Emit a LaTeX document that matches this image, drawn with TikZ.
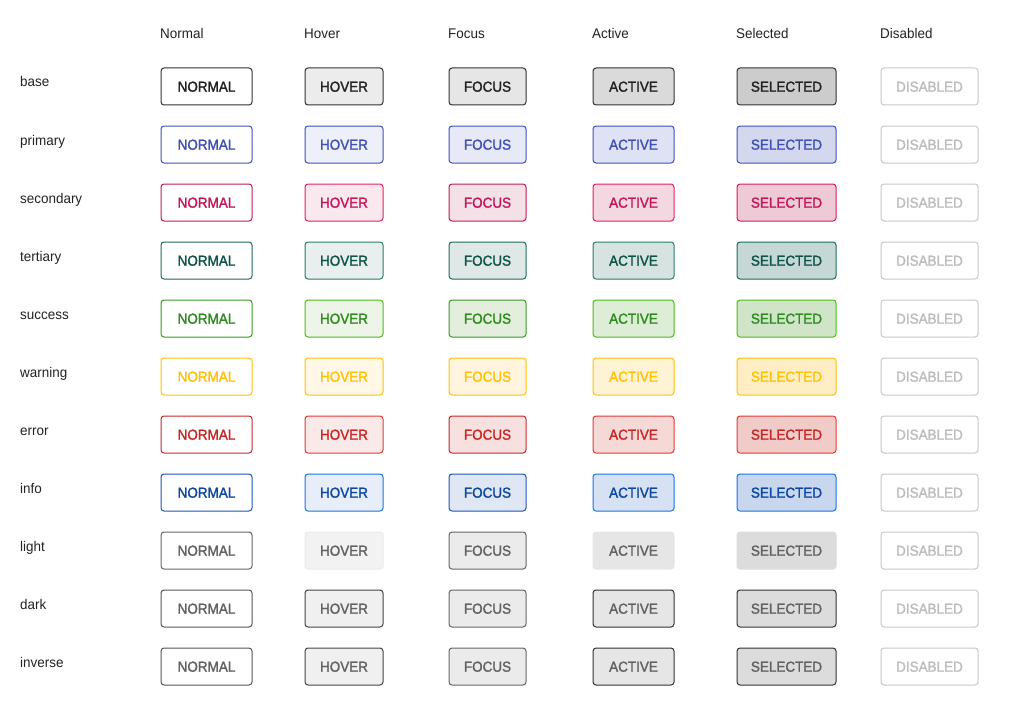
\documentclass[tikz,border=0pt]{standalone}
\usepackage{fontspec}
\setmainfont{Liberation Sans}
\newfontfamily\btnfont[FakeBold=1.6,FakeStretch=0.93]{Liberation Sans}
\newfontfamily\lblfont[FakeStretch=0.96]{Liberation Sans}
\usetikzlibrary{positioning}
% row colour definitions: text, borders and fills
\definecolor{lbl}{HTML}{222222}
\definecolor{dis}{HTML}{BDBDBD}
\definecolor{disb}{HTML}{C8C8C8}
% base
\definecolor{t1}{HTML}{212121}\definecolor{n1}{HTML}{333333}
\definecolor{bh1}{HTML}{333333}\definecolor{fh1}{HTML}{ECECEC}
\definecolor{bf1}{HTML}{333333}\definecolor{ff1}{HTML}{E6E6E6}
\definecolor{ba1}{HTML}{333333}\definecolor{fa1}{HTML}{DADADA}
\definecolor{bs1}{HTML}{333333}\definecolor{fs1}{HTML}{CCCCCC}
% primary
\definecolor{t2}{HTML}{3F51B5}\definecolor{n2}{HTML}{3F51B5}
\definecolor{bh2}{HTML}{3F51B5}\definecolor{fh2}{HTML}{EEF0F9}
\definecolor{bf2}{HTML}{3F51B5}\definecolor{ff2}{HTML}{E7E9F6}
\definecolor{ba2}{HTML}{3F51B5}\definecolor{fa2}{HTML}{DFE2F4}
\definecolor{bs2}{HTML}{3F51B5}\definecolor{fs2}{HTML}{D4D8EE}
% secondary
\definecolor{t3}{HTML}{C2185B}\definecolor{n3}{HTML}{C2185B}
\definecolor{bh3}{HTML}{E91E63}\definecolor{fh3}{HTML}{F9E8EE}
\definecolor{bf3}{HTML}{C2185B}\definecolor{ff3}{HTML}{F4E0E7}
\definecolor{ba3}{HTML}{E91E63}\definecolor{fa3}{HTML}{F3D8E2}
\definecolor{bs3}{HTML}{D81B60}\definecolor{fs3}{HTML}{EDCAD6}
% tertiary
\definecolor{t4}{HTML}{0B5447}\definecolor{n4}{HTML}{1E6B5E}
\definecolor{bh4}{HTML}{2A7A6E}\definecolor{fh4}{HTML}{E8EFEE}
\definecolor{bf4}{HTML}{1E6B5E}\definecolor{ff4}{HTML}{DFE8E7}
\definecolor{ba4}{HTML}{2A7A6E}\definecolor{fa4}{HTML}{D6E3E1}
\definecolor{bs4}{HTML}{1E6B5E}\definecolor{fs4}{HTML}{C6D8D6}
% success
\definecolor{t5}{HTML}{2E8B1E}\definecolor{n5}{HTML}{3A9A22}
\definecolor{bh5}{HTML}{4CBB17}\definecolor{fh5}{HTML}{ECF5E8}
\definecolor{bf5}{HTML}{3A9A22}\definecolor{ff5}{HTML}{E3EFDC}
\definecolor{ba5}{HTML}{4CBB17}\definecolor{fa5}{HTML}{DDEDD6}
\definecolor{bs5}{HTML}{4CBB17}\definecolor{fs5}{HTML}{D0E5C8}
% warning
\definecolor{t6}{HTML}{FFC107}\definecolor{n6}{HTML}{FFC107}
\definecolor{bh6}{HTML}{FFC107}\definecolor{fh6}{HTML}{FFF8E6}
\definecolor{bf6}{HTML}{FFC107}\definecolor{ff6}{HTML}{FFF5DE}
\definecolor{ba6}{HTML}{FFC107}\definecolor{fa6}{HTML}{FFF3D6}
\definecolor{bs6}{HTML}{FFC107}\definecolor{fs6}{HTML}{FFEEC4}
% error
\definecolor{t7}{HTML}{C62828}\definecolor{n7}{HTML}{C62828}
\definecolor{bh7}{HTML}{E53935}\definecolor{fh7}{HTML}{F9EAE9}
\definecolor{bf7}{HTML}{C62828}\definecolor{ff7}{HTML}{F6E1E0}
\definecolor{ba7}{HTML}{E53935}\definecolor{fa7}{HTML}{F5D9D7}
\definecolor{bs7}{HTML}{E53935}\definecolor{fs7}{HTML}{F0CBC8}
% info
\definecolor{t8}{HTML}{0D47A1}\definecolor{n8}{HTML}{1A56BD}
\definecolor{bh8}{HTML}{1A73E8}\definecolor{fh8}{HTML}{E8EEF9}
\definecolor{bf8}{HTML}{1E55B8}\definecolor{ff8}{HTML}{DFE6F4}
\definecolor{ba8}{HTML}{1A73E8}\definecolor{fa8}{HTML}{D6E1F4}
\definecolor{bs8}{HTML}{1A73E8}\definecolor{fs8}{HTML}{C8D6EE}
% light
\definecolor{t9}{HTML}{616161}\definecolor{n9}{HTML}{666666}
\definecolor{bh9}{HTML}{EBEBEB}\definecolor{fh9}{HTML}{F2F2F2}
\definecolor{bf9}{HTML}{666666}\definecolor{ff9}{HTML}{EBEBEB}
\definecolor{ba9}{HTML}{E6E6E6}\definecolor{fa9}{HTML}{E6E6E6}
\definecolor{bs9}{HTML}{DCDCDC}\definecolor{fs9}{HTML}{DCDCDC}
% dark
\definecolor{t10}{HTML}{616161}\definecolor{n10}{HTML}{555555}
\definecolor{bh10}{HTML}{444444}\definecolor{fh10}{HTML}{F0F0F0}
\definecolor{bf10}{HTML}{666666}\definecolor{ff10}{HTML}{EBEBEB}
\definecolor{ba10}{HTML}{333333}\definecolor{fa10}{HTML}{E6E6E6}
\definecolor{bs10}{HTML}{333333}\definecolor{fs10}{HTML}{DCDCDC}
% inverse
\definecolor{t11}{HTML}{616161}\definecolor{n11}{HTML}{555555}
\definecolor{bh11}{HTML}{444444}\definecolor{fh11}{HTML}{F0F0F0}
\definecolor{bf11}{HTML}{666666}\definecolor{ff11}{HTML}{EBEBEB}
\definecolor{ba11}{HTML}{333333}\definecolor{fa11}{HTML}{E6E6E6}
\definecolor{bs11}{HTML}{333333}\definecolor{fs11}{HTML}{DCDCDC}
\tikzset{
  btn/.style={draw, line width=1pt, rounded corners=3pt, anchor=west,
    minimum height=37pt, inner sep=0pt, text height=10.4pt, text depth=0pt,
    font=\btnfont\fontsize{14.5}{15}\selectfont},
  rowlbl/.style={anchor=base west, inner sep=0pt, text=lbl,
    font=\lblfont\fontsize{14}{16}\selectfont},
  collbl/.style={anchor=base west, inner sep=0pt, text=lbl,
    font=\lblfont\fontsize{14}{16}\selectfont}
}
\begin{document}
\begin{tikzpicture}[x=1pt,y=-1pt]
\useasboundingbox[fill=white] (0,0) rectangle (1024,706);
% column headers
\foreach \cx/\ct/\cn in {160/Normal/hn,304/Hover/hh,448/Focus/hf,592/Active/ha,736/Selected/hs,880/Disabled/hd}
  \node[collbl] (\cn) at (\cx,39) {\ct};
% rows
\foreach \i/\lab in {1/base,2/primary,3/secondary,4/tertiary,5/success,6/warning,7/error,8/info,9/light,10/dark,11/inverse}{
  \pgfmathsetmacro{\yc}{86.5+58*(\i-1)}
  \pgfmathsetmacro{\yb}{87+58*(\i-1)}
  \node[rowlbl] (lab\i) at (20,\yb) {\lab};
  \node[btn, draw=n\i, fill=white, text=t\i, minimum width=91pt] (nor\i) at (160.5,\yc) {NORMAL};
  \node[btn, draw=bh\i, fill=fh\i, text=t\i, minimum width=78pt] (hov\i) at (304.5,\yc) {HOVER};
  \node[btn, draw=bf\i, fill=ff\i, text=t\i, minimum width=77pt] (foc\i) at (448.5,\yc) {FOCUS};
  \node[btn, draw=ba\i, fill=fa\i, text=t\i, minimum width=81pt] (act\i) at (592.5,\yc) {ACTIVE};
  \node[btn, draw=bs\i, fill=fs\i, text=t\i, minimum width=99pt] (sel\i) at (736.5,\yc) {SELECTED};
  \node[btn, draw=disb, fill=white, text=dis, minimum width=97pt] (dis\i) at (880.5,\yc) {DISABLED};
}
\end{tikzpicture}
\end{document}
